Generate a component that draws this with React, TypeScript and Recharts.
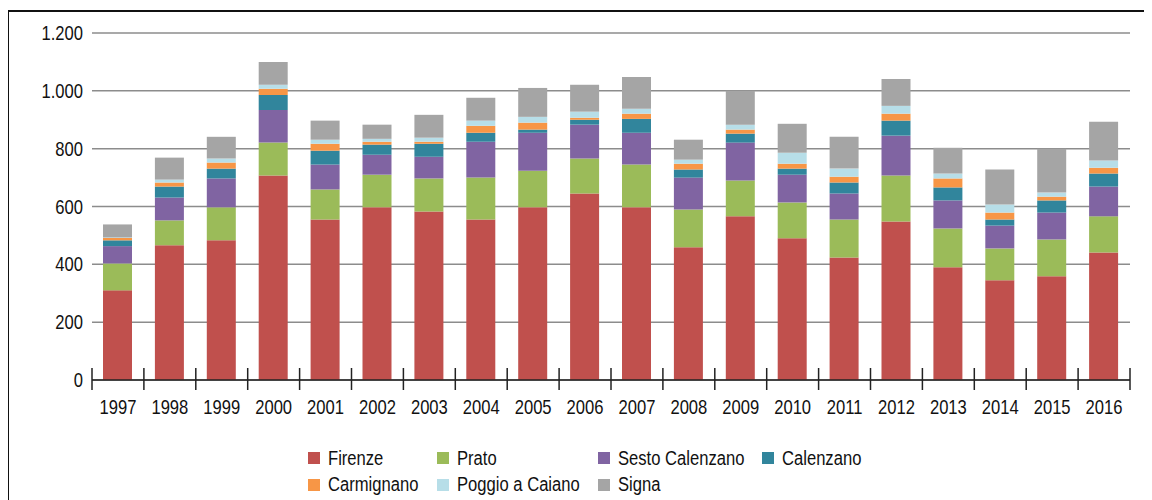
import { BarChart, Bar, XAxis, YAxis, CartesianGrid } from 'recharts'

const years = ['1997', '1998', '1999', '2000', '2001', '2002', '2003', '2004', '2005', '2006', '2007', '2008', '2009', '2010', '2011', '2012', '2013', '2014', '2015', '2016']

const firenze = [310, 466, 483, 707, 555, 597, 583, 555, 597, 645, 597, 459, 566, 490, 424, 548, 390, 345, 359, 441]
const prato = [93, 86, 114, 114, 104, 113, 114, 145, 127, 121, 148, 131, 124, 124, 131, 159, 134, 110, 127, 125]
const sestoCalenzano = [60, 79, 100, 113, 86, 69, 75, 124, 131, 117, 110, 110, 131, 96, 90, 138, 97, 79, 93, 103]
const calenzano = [20, 38, 34, 52, 48, 35, 45, 31, 11, 17, 48, 28, 31, 21, 38, 52, 45, 21, 42, 45]
const carmignano = [8, 14, 21, 21, 24, 10, 7, 24, 24, 7, 18, 20, 14, 17, 20, 24, 31, 24, 13, 20]
const poggio = [2, 10, 14, 14, 14, 10, 14, 18, 20, 21, 17, 14, 17, 38, 28, 27, 17, 28, 14, 25]
const signa = [45, 76, 75, 79, 66, 49, 79, 79, 100, 93, 110, 69, 117, 100, 110, 93, 89, 121, 152, 134]

const yTicks = [0, 200, 400, 600, 800, 1000, 1200]

const series = [
  { key: 'firenze', name: 'Firenze', color: '#C0504D', values: firenze },
  { key: 'prato', name: 'Prato', color: '#9BBB59', values: prato },
  { key: 'sesto', name: 'Sesto Calenzano', color: '#8064A2', values: sestoCalenzano },
  { key: 'calenzano', name: 'Calenzano', color: '#31859C', values: calenzano },
  { key: 'carmignano', name: 'Carmignano', color: '#F79646', values: carmignano },
  { key: 'poggio', name: 'Poggio a Caiano', color: '#B7DEE8', values: poggio },
  { key: 'signa', name: 'Signa', color: '#A5A5A5', values: signa },
]

const data = years.map((year, i) => {
  const row: any = { year }
  series.forEach((s) => {
    row[s.key] = s.values[i]
  })
  return row
})

// no narrow font installed, so squeeze Liberation Sans horizontally
const FONT = '"Liberation Sans", Arial, sans-serif'
const SQUEEZE = 0.83
const CHART_W = 1135
const Y_W = 83
const RIGHT = 14
const BAND = (CHART_W - Y_W - RIGHT) / years.length

const fmt = (v: number) => (v >= 1000 ? `${Math.floor(v / 1000)}.${String(v % 1000).padStart(3, '0')}` : String(v))

function XTick(props: any) {
  const { x, y, payload, index } = props
  const half = BAND / 2
  return (
    <g>
      <text
        transform={`translate(${x},${y + 34}) scale(${SQUEEZE},1)`}
        textAnchor="middle"
        fill="#111"
        fontSize={20}
        fontFamily={FONT}
      >
        {payload.value}
      </text>
      <line x1={x - half} x2={x - half} y1={y - 12} y2={y + 10} stroke="#222" strokeWidth={1.5} />
      {index === years.length - 1 && (
        <line x1={x + half} x2={x + half} y1={y - 12} y2={y + 10} stroke="#222" strokeWidth={1.5} />
      )}
    </g>
  )
}

function YTick(props: any) {
  const { x, y, payload } = props
  return (
    <text
      transform={`translate(${x},${y + 7}) scale(${SQUEEZE},1)`}
      textAnchor="end"
      fill="#111"
      fontSize={20}
      fontFamily={FONT}
    >
      {fmt(payload.value)}
    </text>
  )
}

const legendCols = [299, 428, 589, 753]
const legendRows = [
  ['Firenze', 'Prato', 'Sesto Calenzano', 'Calenzano'],
  ['Carmignano', 'Poggio a Caiano', 'Signa'],
]

export default function App() {
  const colorOf = (name: string) => series.find((s) => s.name === name)?.color
  return (
    <div
      style={{
        position: 'relative',
        width: 1140,
        height: 490,
        marginLeft: -1,
        marginTop: 2,
        borderLeft: '2px solid #111',
        borderTop: '2px solid #111',
        fontFamily: FONT,
        background: '#fff',
      }}
    >
      <BarChart
        width={CHART_W}
        height={420}
        data={data}
        margin={{ top: 21, right: RIGHT, bottom: 12, left: 0 }}
        barCategoryGap={0}
      >
        <CartesianGrid vertical={false} stroke="#8c8c8c" strokeWidth={1.5} />
        <YAxis
          width={Y_W}
          domain={[0, 1200]}
          ticks={yTicks}
          axisLine={false}
          tickLine={false}
          tickSize={0}
          tickMargin={9}
          tick={<YTick />}
        />
        <XAxis
          dataKey="year"
          height={40}
          tickLine={false}
          tickSize={0}
          tickMargin={0}
          axisLine={{ stroke: '#222', strokeWidth: 1.5 }}
          tick={<XTick />}
          interval={0}
        />
        {series.map((s) => (
          <Bar key={s.key} dataKey={s.key} name={s.name} stackId="a" fill={s.color} barSize={29} isAnimationActive={false} />
        ))}
      </BarChart>
      {legendRows.map((row, r) =>
        row.map((name, c) => (
          <div
            key={name}
            style={{
              position: 'absolute',
              left: legendCols[c],
              top: 433 + r * 26.5,
              height: 26,
              display: 'flex',
              alignItems: 'center',
              fontSize: 20,
              color: '#111',
              whiteSpace: 'nowrap',
            }}
          >
            <span style={{ display: 'inline-block', width: 12, height: 12, background: colorOf(name), marginRight: 8 }} />
            <span style={{ display: 'inline-block', transform: `scaleX(${SQUEEZE})`, transformOrigin: 'left center' }}>{name}</span>
          </div>
        ))
      )}
    </div>
  )
}
